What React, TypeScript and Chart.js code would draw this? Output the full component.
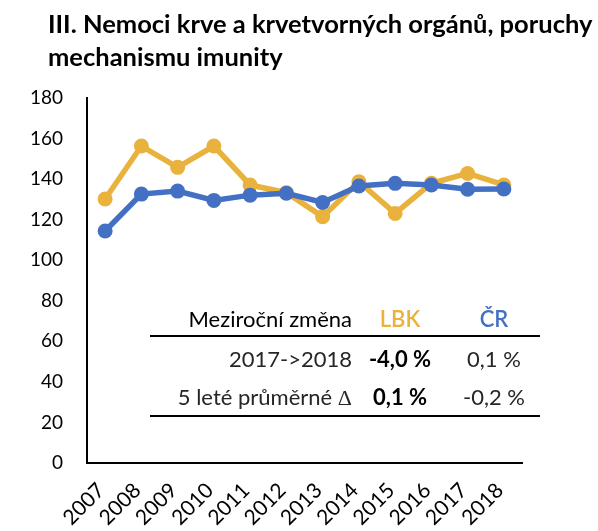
import React, { useEffect, useRef } from "react";
import { Chart, registerables } from "chart.js";

Chart.register(...registerables);

const years = ["2007", "2008", "2009", "2010", "2011", "2012", "2013", "2014", "2015", "2016", "2017", "2018"];
const lbk = [130.2, 156.3, 145.8, 156.3, 137.1, 133.3, 121.5, 138.7, 123.1, 137.9, 142.8, 137.1];
const cr = [114.4, 132.6, 134.1, 129.5, 132.1, 133.0, 128.5, 136.6, 137.9, 137.1, 135.0, 135.1];
const yMin = 0;
const yMax = 180;
const yStep = 20;

const titleLines = ["III. Nemoci krve a krvetvorných orgánů, poruchy", "mechanismu imunity"];
const tableHeader = ["Meziroční změna", "LBK", "ČR"];
const tableRow1 = ["2017->2018", "-4,0 %", "0,1 %"];
const tableRow2 = ["5 leté průměrné ", "0,1 %", "-0,2 %"];

const ORANGE = "#E9B23D";
const BLUE = "#4470C4";
const FONT = "Lato, 'Open Sans', sans-serif";

export default function App() {
  const ref = useRef<HTMLCanvasElement | null>(null);

  useEffect(() => {
    if (!ref.current) return;
    const chart = new Chart(ref.current, {
      type: "line",
      data: {
        labels: years,
        datasets: [
          {
            label: "ČR",
            data: cr,
            borderColor: BLUE,
            backgroundColor: BLUE,
            borderWidth: 5.5,
            pointRadius: 7.5,
            pointBorderWidth: 0,
            pointBackgroundColor: BLUE,
            tension: 0,
            order: 0,
          },
          {
            label: "LBK",
            data: lbk,
            borderColor: ORANGE,
            backgroundColor: ORANGE,
            borderWidth: 5.5,
            pointRadius: 7.5,
            pointBorderWidth: 0,
            pointBackgroundColor: ORANGE,
            tension: 0,
            order: 1,
          },
        ],
      },
      options: {
        animation: false,
        responsive: false,
        maintainAspectRatio: false,
        devicePixelRatio: 1,
        layout: { padding: { top: 98, left: 0, right: 76, bottom: 0 } },
        plugins: { legend: { display: false }, tooltip: { enabled: false }, title: { display: false } },
        scales: {
          x: {
            offset: true,
            grid: { display: false, drawTicks: false },
            border: { color: "#000", width: 2 },
            ticks: {
              autoSkip: false,
              minRotation: 45,
              maxRotation: 45,
              color: "#000",
              padding: 15,
              labelOffset: -4,
              font: { family: FONT, size: 21 },
            },
            afterFit: (s: any) => {
              s.height = 68;
            },
          },
          y: {
            min: yMin,
            max: yMax,
            grid: { display: false, drawTicks: false },
            border: { color: "#000", width: 2 },
            ticks: {
              stepSize: yStep,
              color: "#000",
              padding: 24,
              font: { family: FONT, size: 19 },
            },
            afterFit: (s: any) => {
              s.width = 87;
            },
          },
        },
      },
    });
    return () => chart.destroy();
  }, []);

  const cell = (text: React.ReactNode, left: number, center: number, width: number, align: "left" | "right" | "center", style: React.CSSProperties = {}) => (
    <div
      style={{
        position: "absolute",
        left,
        top: center - 12,
        width,
        height: 24,
        lineHeight: "24px",
        textAlign: align,
        fontFamily: FONT,
        fontSize: 22,
        color: "#262626",
        whiteSpace: "nowrap",
        ...style,
      }}
    >
      {text}
    </div>
  );

  return (
    <div style={{ position: "fixed", left: 0, top: 0, width: 598, height: 531, background: "#fff", overflow: "hidden" }}>
      <canvas ref={ref} width={598} height={531} style={{ position: "absolute", left: 0, top: 0, width: 598, height: 531 }} />
      <div
        style={{
          position: "absolute",
          left: 48,
          top: 7,
          fontFamily: FONT,
          fontWeight: 700,
          fontSize: 25.5,
          lineHeight: "33px",
          color: "#000",
          whiteSpace: "nowrap",
        }}
      >
        {titleLines.map((t, i) => (
          <div key={i}>{t}</div>
        ))}
      </div>
      {cell(tableHeader[0], 130, 318.5, 222, "right", { color: "#000" })}
      {cell(tableHeader[1], 360, 318.5, 80, "center", { color: ORANGE, fontWeight: 600 })}
      {cell(tableHeader[2], 454, 318.5, 80, "center", { color: BLUE, fontWeight: 600 })}
      <div style={{ position: "absolute", left: 150, top: 335, width: 390, height: 2, background: "#000" }} />
      {cell(tableRow1[0], 130, 358.5, 222, "right")}
      {cell(tableRow1[1], 360, 358.5, 80, "center", { color: "#000", fontWeight: 700 })}
      {cell(tableRow1[2], 454, 358.5, 80, "center")}
      {cell(
        <>
          {tableRow2[0]}
          <span style={{ fontFamily: "'Liberation Serif', serif" }}>Δ</span>
        </>,
        130,
        396.5,
        222,
        "right"
      )}
      {cell(tableRow2[1], 360, 396.5, 80, "center", { color: "#000", fontWeight: 700 })}
      {cell(tableRow2[2], 454, 396.5, 80, "center")}
      <div style={{ position: "absolute", left: 150, top: 415, width: 390, height: 2, background: "#000" }} />
    </div>
  );
}
